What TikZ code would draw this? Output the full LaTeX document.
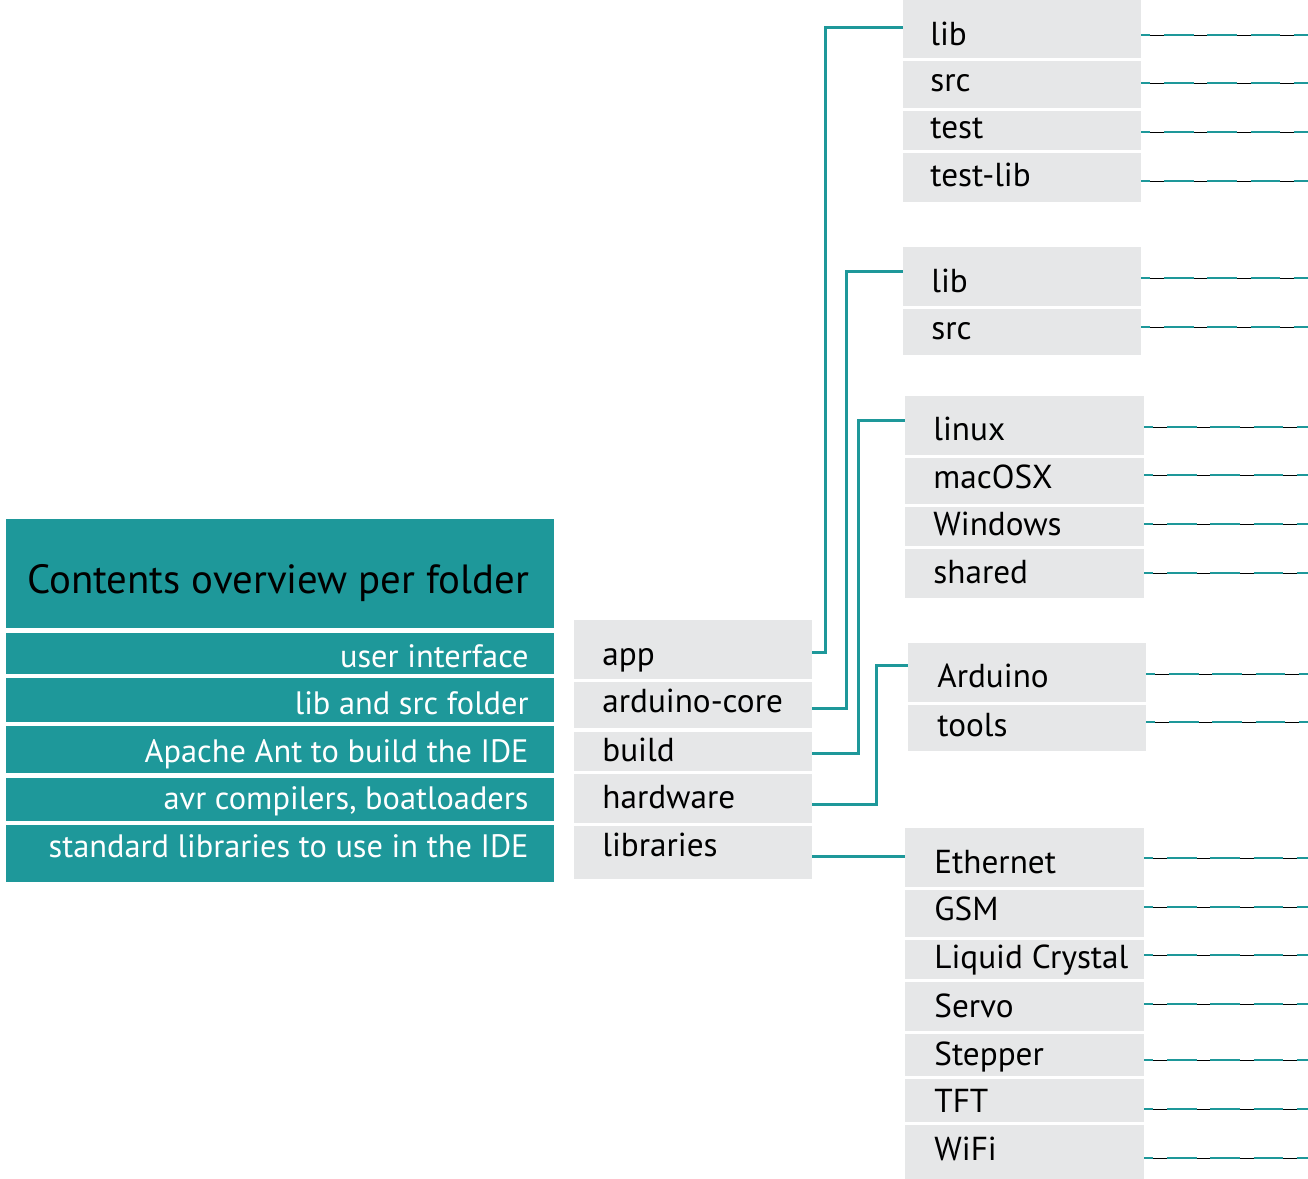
\documentclass[tikz,border=0pt]{standalone}
\usepackage{fontspec}
\setmainfont{PT Sans}
\usetikzlibrary{fit}

\definecolor{ardteal}{RGB}{30,152,154}
\definecolor{dirgrey}{RGB}{230,231,232}

\tikzset{
  panel/.style={fill=ardteal, inner sep=0pt},
  dirbox/.style={fill=dirgrey, inner sep=0pt},
  headtext/.style={anchor=base west, inner sep=0pt, font=\fontsize{20.4}{24}\selectfont},
  rowtext/.style={anchor=base east, inner sep=0pt, text=white, font=\fontsize{16.2}{20}\selectfont},
  dirtext/.style={anchor=base west, inner sep=0pt, font=\fontsize{16.6}{20}\selectfont},
  link/.style={draw=ardteal, line width=1.5pt},
  leader/.style={draw=ardteal, line width=1pt, dash pattern=on 14.75pt off 6.85pt, dash phase=10.25pt,
    preaction={draw=black, line width=0.35pt, solid}},
}

% one column of sub folders: left, right, text x, entries
\newcommand{\dirgroup}[4]{%
  \foreach \nm/\ya/\yb/\yt/\yl/\txt in {#4}{
    \node[dirbox, fit={(#1,\ya) (#2,\yb)}] (\nm) {};
    \node[dirtext] (\nm-t) at (#3,\yt) {\txt};
    \draw[leader] (\nm.east |- 0,\yl) -- (1308,\yl);
  }}

\begin{document}
\begin{tikzpicture}[x=0.5pt, y=-0.5pt]
  \useasboundingbox (0,0) rectangle (1308,1179);

  % legend panel
  \node[panel, fit={(6,519) (554,628)}] (head) {};
  \node[headtext] (head-t) at (27,593) {Contents overview per folder};
  \foreach \nm/\ya/\yb/\yt/\txt in {ui/633/674/667/user interface, libsrc/678/722/714/lib and src folder,
      ant/726/773/762/Apache Ant to build the IDE, avr/778/821/809/{avr compilers, boatloaders},
      std/825/882/857/standard libraries to use in the IDE}{
    \node[panel, fit={(6,\ya) (554,\yb)}] (\nm) {};
    \node[rowtext] (\nm-t) at (529,\yt) {\txt};
  }

  % top level folders
  \foreach \nm/\ya/\yb/\yt/\txt in {app/620/679/665/app, core/682/728/712/arduino-core,
      build/732/771/761/build, hw/774/823/808/hardware, libs/826/879/856/libraries}{
    \node[dirbox, fit={(574,\ya) (812,\yb)}] (\nm) {};
    \node[dirtext] (\nm-t) at (602,\yt) {\txt};
  }

  % sub folders
  \dirgroup{903}{1141}{930}{lib1/0/58/45/35/lib, src1/61/108/91/83/src, test/111/150/138/132/test,
    testlib/153/202/186/181/test-lib}
  \dirgroup{903}{1141}{931}{lib2/247/306/292/278/lib, src2/309/355/339/327/src}
  \dirgroup{905}{1144}{933}{linux/396/455/440/427/linux, mac/458/504/488/475/macOSX,
    win/507/546/535/524/Windows, shared/549/598/583/573/shared}
  \dirgroup{908}{1146}{937}{arduino/643/702/687/674/Arduino, tools/705/751/736/722/tools}
  \dirgroup{905}{1144}{934}{eth/828/887/873/858/Ethernet, gsm/890/937/920/907/GSM,
    lcd/940/979/968/955/Liquid Crystal, servo/982/1031/1017/1004/Servo,
    stepper/1034/1076/1065/1060/Stepper, tft/1079/1122/1112/1109/TFT, wifi/1125/1179/1160/1158/WiFi}

  % folder links
  \draw[link] ([yshift=-1.25pt]app.east) -- ++(13,0) |- ([yshift=1pt]lib1.west);
  \draw[link] ([yshift=-1.5pt]core.east) -- ++(34,0) |- ([yshift=2.75pt]lib2.west);
  \draw[link] ([yshift=-0.75pt]build.east) -- ++(46,0) |- ([yshift=2.75pt]linux.west);
  \draw[link] ([yshift=-2.75pt]hw.east) -- ++(64,0) |- ([yshift=3.75pt]arduino.west);
  \draw[link] ([yshift=-1.75pt]libs.east) -- ([yshift=-1.75pt]libs.east -| eth.west);
\end{tikzpicture}
\end{document}
